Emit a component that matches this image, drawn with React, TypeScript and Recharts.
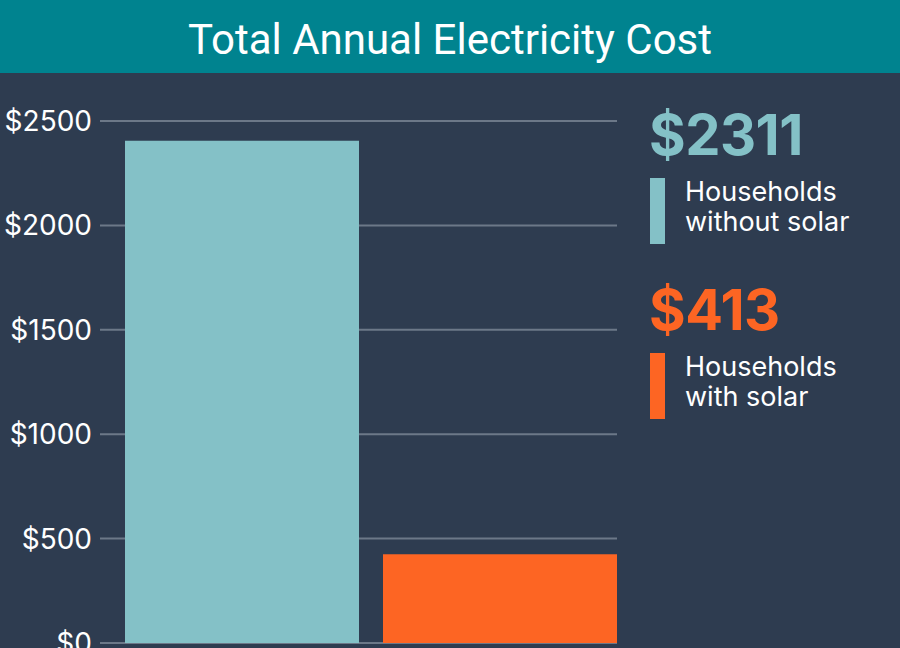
import { Bar, BarChart, CartesianGrid, Cell, XAxis, YAxis } from "recharts";

const categories = ["Households without solar", "Households with solar"];
const barValues = [2405, 425];
const labelAmounts = [2311, 413];
const labelLines = [
  ["Households", "without solar"],
  ["Households", "with solar"],
];
const yTicks = [0, 500, 1000, 1500, 2000, 2500];
const colors = ["#84c1c7", "#fd6523"];

const data = categories.map((name, i) => ({ name, value: barValues[i] }));

const font = "Inter, 'Liberation Sans', sans-serif";

// side legend: big amount, colour marker and two-line caption
function SideLegend() {
  const tops = [107, 282];
  return (
    <>
      {labelAmounts.map((amt, i) => (
        <div key={i}>
          <div
            style={{
              position: "absolute",
              left: 649,
              top: tops[i],
              color: colors[i],
              fontFamily: font,
              fontSize: 56,
              fontWeight: 700,
              lineHeight: "56px",
              letterSpacing: -0.5,
            }}
          >
            ${amt}
          </div>
          <div
            style={{
              position: "absolute",
              left: 650,
              top: tops[i] + 71,
              width: 15,
              height: 66,
              background: colors[i],
            }}
          />
          <div
            style={{
              position: "absolute",
              left: 685,
              top: tops[i] + 70,
              color: "#ffffff",
              fontFamily: font,
              fontSize: 27,
              lineHeight: "30px",
            }}
          >
            {labelLines[i].map((l) => (
              <div key={l}>{l}</div>
            ))}
          </div>
        </div>
      ))}
    </>
  );
}

export default function App() {
  return (
    <div
      style={{
        position: "absolute",
        left: 0,
        top: 0,
        width: 900,
        height: 648,
        background: "#2e3c50",
        overflow: "hidden",
      }}
    >
      <div
        style={{
          position: "absolute",
          left: 0,
          top: 0,
          width: 900,
          height: 73,
          background: "#00838f",
          color: "#ffffff",
          fontFamily: "Roboto, sans-serif",
          fontSize: 42,
          lineHeight: "80px",
          textAlign: "center",
        }}
      >
        Total Annual Electricity Cost
      </div>
      <BarChart
        width={900}
        height={648}
        data={data}
        margin={{ top: 121, right: 283, bottom: 5, left: 0 }}
        style={{ position: "absolute", left: 0, top: 0 }}
      >
        <CartesianGrid vertical={false} stroke="#6c7888" strokeWidth={2} />
        <XAxis dataKey="name" hide padding={{ left: 13, right: -12 }} />
        <YAxis
          domain={[0, 2500]}
          ticks={yTicks}
          interval={0}
          width={100}
          axisLine={false}
          tickLine={false}
          tickFormatter={(v) => `$${v}`}
          tick={{ fill: "#ffffff", fontSize: 28, fontFamily: font }}
        />
        <Bar dataKey="value" barSize={234} isAnimationActive={false}>
          {data.map((d, i) => (
            <Cell key={d.name} fill={colors[i]} />
          ))}
        </Bar>
      </BarChart>
      <SideLegend />
    </div>
  );
}
